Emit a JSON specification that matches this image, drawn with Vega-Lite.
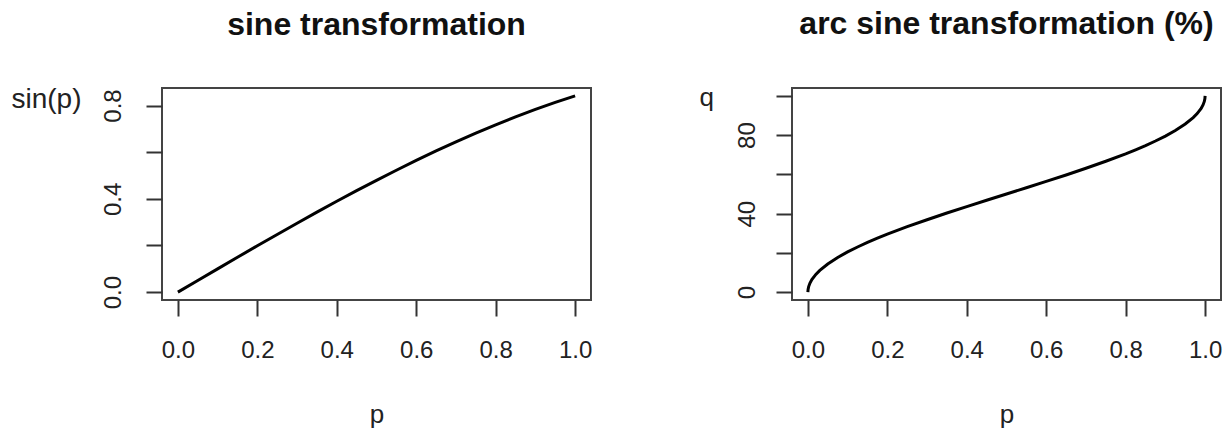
{
  "$schema": "https://vega.github.io/schema/vega-lite/v6.json",
  "background": "white",
  "padding": {"left": 10, "top": 7, "right": 0, "bottom": 0},
  "bounds": "flush",
  "spacing": 201,
  "datasets": {
    "sine": [
      {"p": 0, "v": 0}, {"p": 0.05, "v": 0.049979}, {"p": 0.1, "v": 0.099833}, {"p": 0.15, "v": 0.149438},
      {"p": 0.2, "v": 0.198669}, {"p": 0.25, "v": 0.247404}, {"p": 0.3, "v": 0.29552}, {"p": 0.35, "v": 0.342898},
      {"p": 0.4, "v": 0.389418}, {"p": 0.45, "v": 0.434966}, {"p": 0.5, "v": 0.479426}, {"p": 0.55, "v": 0.522687},
      {"p": 0.6, "v": 0.564642}, {"p": 0.65, "v": 0.605186}, {"p": 0.7, "v": 0.644218}, {"p": 0.75, "v": 0.681639},
      {"p": 0.8, "v": 0.717356}, {"p": 0.85, "v": 0.75128}, {"p": 0.9, "v": 0.783327}, {"p": 0.95, "v": 0.813416},
      {"p": 1, "v": 0.841471}
    ],
    "arcsine": [
      {"p": 0, "v": 0}, {"p": 0.0005, "v": 1.424}, {"p": 0.002, "v": 2.848}, {"p": 0.005, "v": 4.505},
      {"p": 0.01, "v": 6.377}, {"p": 0.02, "v": 9.034}, {"p": 0.03, "v": 11.083}, {"p": 0.05, "v": 14.357},
      {"p": 0.075, "v": 17.66}, {"p": 0.1, "v": 20.483}, {"p": 0.125, "v": 23.005}, {"p": 0.15, "v": 25.318},
      {"p": 0.175, "v": 27.477}, {"p": 0.2, "v": 29.517}, {"p": 0.25, "v": 33.333}, {"p": 0.3, "v": 36.901},
      {"p": 0.35, "v": 40.301}, {"p": 0.4, "v": 43.591}, {"p": 0.45, "v": 46.812}, {"p": 0.5, "v": 50},
      {"p": 0.55, "v": 53.188}, {"p": 0.6, "v": 56.409}, {"p": 0.65, "v": 59.699}, {"p": 0.7, "v": 63.099},
      {"p": 0.75, "v": 66.667}, {"p": 0.8, "v": 70.483}, {"p": 0.825, "v": 72.523}, {"p": 0.85, "v": 74.682},
      {"p": 0.875, "v": 76.995}, {"p": 0.9, "v": 79.517}, {"p": 0.925, "v": 82.34}, {"p": 0.95, "v": 85.643},
      {"p": 0.97, "v": 88.917}, {"p": 0.98, "v": 90.966}, {"p": 0.99, "v": 93.623}, {"p": 0.995, "v": 95.495},
      {"p": 0.998, "v": 97.152}, {"p": 0.9995, "v": 98.576}, {"p": 1, "v": 100}
    ]
  },
  "config": {
    "font": "Liberation Sans",
    "view": {"stroke": "#444444", "strokeWidth": 2},
    "axis": {
      "domain": false,
      "grid": false,
      "ticks": true,
      "tickColor": "#333333",
      "tickWidth": 2,
      "tickSize": 16,
      "labelFont": "Liberation Sans",
      "labelFontSize": 24,
      "labelColor": "#222222",
      "titleFont": "Liberation Sans",
      "titleFontSize": 26,
      "titleFontWeight": "normal",
      "titleColor": "#222222",
      "labelOverlap": false,
      "labelFlush": false
    },
    "title": {
      "font": "Liberation Sans",
      "fontSize": 32,
      "fontWeight": "bold",
      "color": "#111111",
      "anchor": "middle",
      "frame": "group",
      "baseline": "alphabetic",
      "offset": 43
    }
  },
  "hconcat": [
    {
      "width": 429,
      "height": 212,
      "title": "sine transformation",
      "data": {"name": "sine"},
      "mark": {"type": "line", "color": "black", "strokeWidth": 3, "clip": true},
      "encoding": {
        "x": {
          "field": "p", "type": "quantitative",
          "scale": {"domain": [-0.04, 1.04], "nice": false, "zero": false},
          "axis": {
            "values": [0, 0.2, 0.4, 0.6, 0.8, 1],
            "format": ".1f",
            "labelPadding": 22,
            "labelBaseline": "top",
            "title": "p",
            "titleY": 122,
            "titleBaseline": "alphabetic"
          }
        },
        "y": {
          "field": "v", "type": "quantitative",
          "scale": {"domain": [-0.03366, 0.87513], "nice": false, "zero": false},
          "axis": {
            "values": [0, 0.2, 0.4, 0.6, 0.8],
            "labelExpr": "datum.value == 0.2 || datum.value == 0.6 ? '' : format(datum.value, '.1f')",
            "labelAngle": -90,
            "labelAlign": "center",
            "labelBaseline": "alphabetic",
            "labelPadding": 26,
            "title": "sin(p)",
            "titleFontSize": 28,
            "titleAngle": 0,
            "titleAlign": "left",
            "titleBaseline": "alphabetic",
            "titleX": -151,
            "titleY": 19
          }
        }
      }
    },
    {
      "width": 429,
      "height": 212,
      "title": "arc sine transformation (%)",
      "data": {"name": "arcsine"},
      "mark": {"type": "line", "color": "black", "strokeWidth": 3, "clip": true},
      "encoding": {
        "x": {
          "field": "p", "type": "quantitative",
          "scale": {"domain": [-0.04, 1.04], "nice": false, "zero": false},
          "axis": {
            "values": [0, 0.2, 0.4, 0.6, 0.8, 1],
            "format": ".1f",
            "labelPadding": 22,
            "labelBaseline": "top",
            "title": "p",
            "titleY": 122,
            "titleBaseline": "alphabetic"
          }
        },
        "y": {
          "field": "v", "type": "quantitative",
          "scale": {"domain": [-4, 104], "nice": false, "zero": false},
          "axis": {
            "values": [0, 20, 40, 60, 80, 100],
            "labelExpr": "datum.value == 20 || datum.value == 60 || datum.value == 100 ? '' : format(datum.value, 'd')",
            "labelAngle": -90,
            "labelAlign": "center",
            "labelBaseline": "alphabetic",
            "labelPadding": 22,
            "title": "q",
            "titleAngle": 0,
            "titleAlign": "left",
            "titleBaseline": "alphabetic",
            "titleX": -93,
            "titleY": 17
          }
        }
      }
    }
  ]
}
